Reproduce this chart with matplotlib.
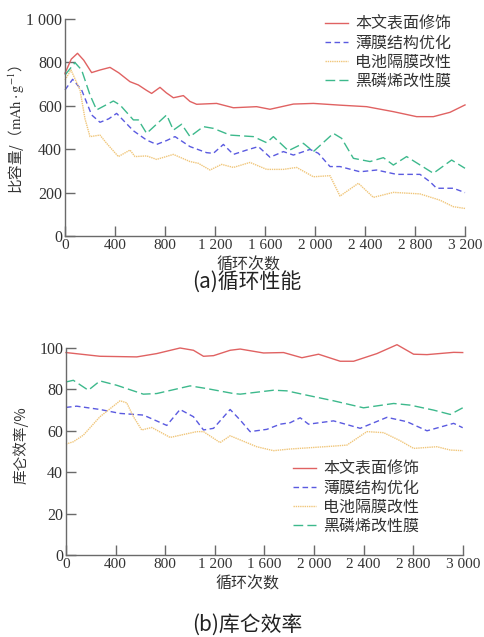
import numpy as np
import matplotlib
matplotlib.use("Agg")
import matplotlib.pyplot as plt

plt.rcParams["font.family"] = ["Noto Sans CJK SC", "DejaVu Sans"]
plt.rcParams["mathtext.fontset"] = "stix"

# Line colors
COLORS = {
    "surface": "#e06262",  # red
    "film": "#5a5ae0",     # blue
    "separator": "#f0c67a",  # orange
    "bp": "#3db98c",       # green
}

LABELS = ["本文表面修饰", "薄膜结构优化", "电池隔膜改性", "黑磷烯改性膜"]

# (a) cycle performance, specific capacity (mAh/g)
cyc_red_x = [0, 50, 100, 150, 213, 280, 360, 430, 520, 587, 650, 693, 760, 810, 867, 947, 1000,
             1053, 1213, 1347, 1533, 1640, 1827, 1987, 2200, 2413, 2627, 2813, 2947, 3080, 3200]
cyc_red_y = [750, 815, 842, 810, 753, 765, 777, 752, 711, 696, 672, 657, 685, 660, 637, 647, 620,
             607, 611, 591, 596, 584, 608, 611, 603, 596, 573, 550, 550, 570, 604]

cyc_blue_x = [0, 61, 133, 213, 280, 350, 413, 480, 547, 653, 733, 813, 880, 1000, 1133, 1187, 1267,
              1347, 1453, 1547, 1640, 1747, 1827, 1960, 2027, 2120, 2200, 2360, 2493, 2653, 2840,
              2920, 2973, 3107, 3200]
cyc_blue_y = [673, 722, 673, 558, 524, 540, 565, 525, 485, 442, 422, 440, 458, 412, 384, 381, 422,
              376, 396, 412, 363, 389, 373, 399, 381, 320, 320, 296, 304, 284, 284, 250, 220, 220, 200]

cyc_orange_x = [0, 48, 120, 160, 200, 280, 333, 427, 520, 560, 653, 733, 867, 1000, 1067, 1160, 1253,
                1347, 1480, 1613, 1747, 1853, 1987, 2120, 2200, 2347, 2467, 2627, 2840, 3000, 3107, 3200]
cyc_orange_y = [719, 765, 673, 540, 458, 465, 427, 366, 396, 366, 369, 353, 376, 343, 335, 304, 330,
                316, 339, 307, 307, 316, 273, 278, 184, 243, 178, 201, 194, 165, 135, 127]

cyc_green_x = [0, 80, 133, 200, 253, 387, 440, 547, 587, 653, 813, 867, 933, 1000, 1107, 1187, 1320,
               1507, 1613, 1667, 1787, 1907, 1987, 2147, 2213, 2307, 2440, 2547, 2627, 2733, 2947,
               3093, 3200]
cyc_green_y = [742, 799, 765, 650, 581, 622, 604, 535, 535, 473, 558, 488, 515, 458, 504, 496, 465,
               458, 430, 458, 393, 427, 389, 473, 450, 358, 343, 361, 327, 366, 289, 350, 312]

# (b) coulombic efficiency (%), x on the drawn axis scale (last tick is labelled "3 000")
ce_red_x = [0, 274, 571, 732, 920, 1028, 1109, 1190, 1324, 1405, 1593, 1755, 1903, 2037, 2212, 2320,
            2508, 2670, 2804, 2912, 3127, 3200]
ce_red_y = [97.8, 96.0, 95.7, 97.3, 100.0, 98.9, 96.0, 96.3, 98.9, 99.5, 97.6, 97.8, 95.3, 97.0,
            93.6, 93.6, 97.3, 101.6, 97.0, 96.8, 97.9, 97.8]

ce_blue_x = [0, 86, 274, 436, 624, 813, 920, 1028, 1109, 1190, 1324, 1405, 1485, 1620, 1728, 1808,
             1889, 1956, 2158, 2373, 2589, 2750, 2912, 3127, 3200]
ce_blue_y = [71.3, 71.9, 70.3, 68.4, 67.6, 62.6, 70.3, 66.8, 60.4, 61.2, 70.3, 65.2, 59.6, 60.7,
             63.2, 63.9, 66.3, 63.2, 64.8, 61.2, 66.5, 64.4, 60.0, 63.6, 61.5]

ce_orange_x = [0, 59, 140, 274, 436, 490, 544, 611, 692, 840, 1055, 1109, 1243, 1324, 1539, 1674,
               1808, 2158, 2266, 2427, 2562, 2696, 2804, 2992, 3100, 3200]
ce_orange_y = [53.6, 54.7, 57.9, 66.8, 74.5, 73.5, 66.8, 60.4, 61.6, 56.8, 59.6, 59.6, 54.3, 57.6,
               52.3, 50.4, 51.2, 52.6, 53.1, 59.6, 59.1, 55.2, 51.5, 52.3, 50.7, 50.4]

ce_green_x = [0, 59, 180, 274, 409, 624, 732, 1001, 1136, 1351, 1405, 1674, 1781, 1943, 2158, 2400,
              2643, 2777, 2965, 3100, 3200]
ce_green_y = [83.6, 84.4, 79.6, 84.1, 82.0, 77.7, 78.0, 81.7, 80.4, 78.0, 77.7, 79.6, 79.3, 77.2,
              74.5, 71.1, 73.2, 72.4, 70.0, 67.9, 71.1]

cyc_xticks = [0, 400, 800, 1200, 1600, 2000, 2400, 2800, 3200]
cyc_xticklabels = ["0", "400", "800", "1 200", "1 600", "2 000", "2 400", "2 800", "3 200"]
cyc_yticks = [0, 200, 400, 600, 800, 1000]
cyc_yticklabels = ["0", "200", "400", "600", "800", "1 000"]

ce_xticks = [0, 400, 800, 1200, 1600, 2000, 2400, 2800, 3200]
ce_xticklabels = ["0", "400", "800", "1 200", "1 600", "2 000", "2 400", "2 800", "3 000"]
ce_yticks = [0, 20, 40, 60, 80, 100]
ce_yticklabels = ["0", "20", "40", "60", "80", "100"]

SERIF = "Liberation Serif"
AXIS_GRAY = "#6a6a6a"
TEXT = "#333333"


def style_axes(ax, xticks, xlabels, yticks, ylabels):
    for side in ("top", "right"):
        ax.spines[side].set_visible(False)
    for side in ("left", "bottom"):
        ax.spines[side].set_color(AXIS_GRAY)
        ax.spines[side].set_linewidth(1.0)
    ax.set_xticks(xticks)
    ax.set_xticklabels(xlabels, fontfamily=SERIF, fontsize=11)
    ax.set_yticks(yticks)
    ax.set_yticklabels(ylabels, fontfamily=SERIF, fontsize=11.5)
    ax.tick_params(axis="both", direction="in", length=7, width=1.0, color=AXIS_GRAY,
                   labelcolor=TEXT)
    ax.tick_params(axis="x", pad=2)
    ax.tick_params(axis="y", pad=2)


def draw_series(ax, series):
    styles = [
        dict(color=COLORS["surface"], linestyle="-", linewidth=1.0),
        dict(color=COLORS["film"], linestyle=(0, (4, 2.5)), linewidth=1.0),
        dict(color=COLORS["separator"], linestyle=(0, (1, 0.6)), linewidth=1.0),
        dict(color=COLORS["bp"], linestyle=(0, (7, 3)), linewidth=1.0),
    ]
    for (x, y), st, lab in zip(series, styles, LABELS):
        ax.plot(x, y, label=lab, clip_on=False, **st)


def add_legend(ax, fig, x_px, y_px):
    ax.legend(loc="upper left", bbox_to_anchor=(x_px / 484, 1 - y_px / 637),
              bbox_transform=fig.transFigure, frameon=False, fontsize=11.5,
              handlelength=1.45, handletextpad=0.45, labelspacing=0.12,
              borderpad=0, borderaxespad=0, labelcolor=TEXT)


def main():
    fig = plt.figure(figsize=(4.84, 6.37), dpi=100)

    # (a) cycle performance
    ax1 = fig.add_axes([65 / 484, 1 - 236 / 637, 400 / 484, 217 / 637])
    draw_series(ax1, [(cyc_red_x, cyc_red_y), (cyc_blue_x, cyc_blue_y),
                      (cyc_orange_x, cyc_orange_y), (cyc_green_x, cyc_green_y)])
    ax1.set_xlim(0, 3200)
    ax1.set_ylim(0, 1000)
    style_axes(ax1, cyc_xticks, cyc_xticklabels, cyc_yticks, cyc_yticklabels)
    ax1.set_xlabel("循环次数", fontsize=11.5, color=TEXT)
    ax1.xaxis.set_label_coords((248 - 65) / 400, -0.093)
    ax1.set_ylabel(r"比容量/（$\mathrm{mAh\cdot g^{-1}}$）", fontsize=10.5, color=TEXT)
    ax1.yaxis.set_label_coords(-0.095, 0.49)
    add_legend(ax1, fig, 325, 16)
    fig.text(247 / 484, 1 - 283 / 637, "(a)循环性能", ha="center", va="center",
             fontsize=15, color="#222222")

    # (b) coulombic efficiency
    ax2 = fig.add_axes([66 / 484, 1 - 555 / 637, 396.7 / 484, 207 / 637])
    draw_series(ax2, [(ce_red_x, ce_red_y), (ce_blue_x, ce_blue_y),
                      (ce_orange_x, ce_orange_y), (ce_green_x, ce_green_y)])
    ax2.set_xlim(0, 3200)
    ax2.set_ylim(0, 100)
    style_axes(ax2, ce_xticks, ce_xticklabels, ce_yticks, ce_yticklabels)
    ax2.set_xlabel("循环次数", fontsize=11.5, color=TEXT)
    ax2.xaxis.set_label_coords((247 - 66) / 396.7, -0.097)
    ax2.set_ylabel("库仑效率/%", fontsize=10.5, color=TEXT)
    ax2.yaxis.set_label_coords(-0.095, 0.53)
    add_legend(ax2, fig, 293, 461)
    fig.text(247 / 484, 1 - 625 / 637, "(b)库仑效率", ha="center", va="center",
             fontsize=15, color="#222222")

    fig.savefig("out.png", dpi=100)
    plt.close(fig)


if __name__ == "__main__":
    main()
